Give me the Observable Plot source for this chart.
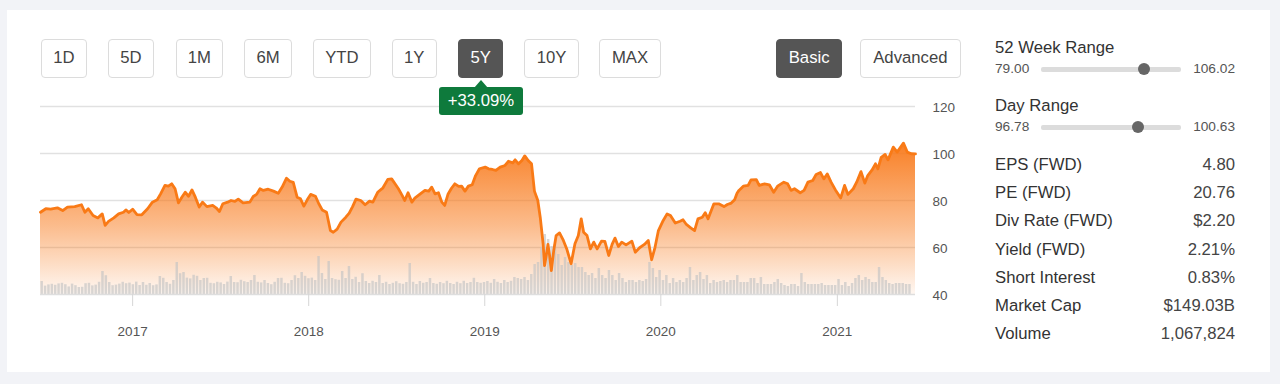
<!DOCTYPE html>
<html><head><meta charset="utf-8">
<script src="https://cdn.jsdelivr.net/npm/d3@7"></script>
<script src="https://cdn.jsdelivr.net/npm/@observablehq/plot@0.6"></script>
<style>
html,body{margin:0;padding:0;}
body{width:1280px;height:384px;background:#f2f3f7;font-family:"Liberation Sans",Arial,sans-serif;position:relative;overflow:hidden;}
#card{position:absolute;left:7px;top:10px;width:1263px;height:362px;background:#fff;}
.btn{position:absolute;top:38.5px;height:39px;border:1px solid #dcdcdc;border-radius:4px;box-sizing:border-box;display:flex;align-items:center;justify-content:center;font-size:16.7px;color:#444;background:#fff;}
.btn.on{background:#555;border-color:#555;color:#fff;}
.t{position:absolute;white-space:nowrap;line-height:20px;height:20px;}
#chart{position:absolute;left:20px;top:96px;}
#badge{position:absolute;left:439px;top:87px;width:84px;height:28px;background:#0e7a3c;border-radius:3px;color:#fff;font-size:16.7px;display:flex;align-items:center;justify-content:center;}
#arrow{position:absolute;left:474px;top:80px;width:0;height:0;border-left:7px solid transparent;border-right:7px solid transparent;border-bottom:8px solid #0e7a3c;}
.track{position:absolute;height:5px;background:#dcdcdc;border-radius:2px;}
.knob{position:absolute;width:12px;height:12px;border-radius:6px;background:#666;}
</style>
</head><body>
<div id="card"></div>
<div id="chart"></div>
<div id="ui"></div>
<script>
// ---------------- data ----------------
const priceDates = [
"2016-06-24","2016-07-05","2016-07-15","2016-07-29","2016-08-09","2016-08-19","2016-09-03","2016-09-17","2016-09-24","2016-10-01",
"2016-10-11","2016-10-21","2016-10-30","2016-11-05","2016-11-12","2016-11-23","2016-12-03","2016-12-13","2016-12-18","2016-12-24",
"2017-01-01","2017-01-10","2017-01-20","2017-02-01","2017-02-11","2017-02-21","2017-02-28","2017-03-09","2017-03-16","2017-03-23",
"2017-03-30","2017-04-06","2017-04-13","2017-04-20","2017-04-27","2017-05-04","2017-05-11","2017-05-19","2017-05-26","2017-06-04",
"2017-06-16","2017-06-23","2017-06-30","2017-07-07","2017-07-17","2017-07-24","2017-08-01","2017-08-08","2017-08-18","2017-09-01",
"2017-09-08","2017-09-15","2017-09-22","2017-09-29","2017-10-09","2017-10-20","2017-10-30","2017-11-07","2017-11-16","2017-11-23",
"2017-11-30","2017-12-08","2017-12-15","2017-12-22","2017-12-29","2018-01-05","2018-01-15","2018-01-22","2018-01-29","2018-02-07",
"2018-02-15","2018-02-21","2018-03-01","2018-03-09","2018-03-19","2018-03-26","2018-04-02","2018-04-09","2018-04-19","2018-04-28",
"2018-05-07","2018-05-14","2018-05-24","2018-06-04","2018-06-14","2018-06-22","2018-06-29","2018-07-06","2018-07-14","2018-07-19",
"2018-07-26","2018-08-03","2018-08-09","2018-08-19","2018-08-30","2018-09-07","2018-09-13","2018-09-20","2018-09-27","2018-10-04",
"2018-10-10","2018-10-17","2018-10-24","2018-10-31","2018-11-08","2018-11-14","2018-11-21","2018-11-28","2018-12-06","2018-12-13",
"2018-12-21","2019-01-02","2019-01-09","2019-01-17","2019-01-24","2019-02-02","2019-02-12","2019-02-19","2019-02-28","2019-03-05",
"2019-03-12","2019-03-19","2019-03-25","2019-04-01","2019-04-08","2019-04-14","2019-04-21","2019-04-26","2019-05-02","2019-05-05",
"2019-05-08","2019-05-12","2019-05-15","2019-05-19","2019-05-24","2019-05-29","2019-06-05","2019-06-13","2019-06-20","2019-06-29",
"2019-07-07","2019-07-14","2019-07-20","2019-07-25","2019-08-01","2019-08-08","2019-08-15","2019-08-22","2019-08-31","2019-09-07",
"2019-09-15","2019-09-22","2019-09-28","2019-10-05","2019-10-12","2019-10-21","2019-11-02","2019-11-09","2019-11-18","2019-11-28",
"2019-12-06","2019-12-13","2019-12-20","2019-12-27","2020-01-06","2020-01-14","2020-01-21","2020-01-31","2020-02-10","2020-02-16",
"2020-02-23","2020-03-03","2020-03-11","2020-03-18","2020-03-27","2020-04-02","2020-04-08","2020-04-20","2020-04-30","2020-05-11",
"2020-05-18","2020-05-26","2020-06-02","2020-06-07","2020-06-11","2020-06-20","2020-06-30","2020-07-06","2020-07-17","2020-07-23",
"2020-08-03","2020-08-13","2020-08-22","2020-08-30","2020-09-12","2020-09-20","2020-09-27","2020-10-04","2020-10-16","2020-10-24",
"2020-11-01","2020-11-11","2020-11-18","2020-11-27","2020-12-04","2020-12-11","2020-12-19","2020-12-28","2021-01-08","2021-01-16",
"2021-01-23","2021-02-03","2021-02-10","2021-02-19","2021-02-27","2021-03-05","2021-03-14","2021-03-21","2021-03-26","2021-04-02",
"2021-04-10","2021-04-16","2021-04-27","2021-05-05","2021-05-18","2021-05-26","2021-06-03","2021-06-12"
];
const prices = [
75.0,76.5,76.3,76.9,75.7,77.2,77.4,78.2,75.0,76.5,
73.6,72.6,74.3,69.4,71.1,72.6,74.3,75.0,76.0,74.9,
76.3,74.0,73.9,76.5,79.3,80.3,82.8,86.4,86.1,87.1,
85.0,79.0,81.4,83.5,81.8,84.5,81.4,77.2,79.3,77.4,
77.9,76.9,75.3,78.6,79.3,80.0,79.6,80.6,79.0,79.3,
81.7,82.6,85.0,84.3,84.8,84.0,83.1,85.7,89.5,88.2,
87.7,81.4,80.7,77.6,80.3,82.6,81.8,78.6,76.0,75.0,
67.2,66.5,67.8,70.8,72.9,74.6,77.4,80.6,80.0,78.2,
79.7,79.3,83.5,85.4,89.0,89.2,87.1,85.0,82.1,80.0,
83.3,79.3,81.0,82.6,84.3,84.0,85.7,82.8,83.3,79.3,
77.9,82.8,85.2,87.1,86.0,86.1,84.0,86.1,86.7,90.6,
93.5,94.2,93.5,93.2,92.8,94.2,94.9,96.7,96.0,97.3,
95.6,97.0,99.0,97.0,95.6,84.0,80.0,72.9,61.6,52.3,
55.9,61.3,57.3,50.2,58.7,65.1,66.2,63.0,59.4,53.1,
61.6,65.1,72.2,66.5,65.1,59.4,62.3,59.4,62.7,62.6,
56.6,61.3,64.0,60.4,62.3,61.1,62.7,58.0,59.9,61.3,
63.0,54.8,60.1,67.2,71.5,74.3,73.6,70.4,71.2,71.8,
69.8,68.4,67.2,72.2,72.9,74.8,72.2,78.6,78.6,77.4,
78.3,78.9,80.3,83.1,84.3,86.1,86.4,88.8,88.9,86.4,
87.1,86.7,83.5,86.1,87.8,87.1,84.3,85.0,83.3,84.3,
87.8,88.5,91.1,91.9,89.2,91.3,87.8,84.5,81.1,86.4,
82.6,85.0,87.8,92.3,87.4,90.6,93.0,95.6,93.5,98.4,
99.6,97.3,102.7,100.6,104.4,100.6,99.9,99.8
];
// weekly volume (millions of shares), first week starting volStart
const volStart = "2016-06-24";
const volumes = [
6.5,4.2,4.8,5.1,4.6,5.3,5.6,4.9,3.8,5.2,4.4,
3.5,3.6,5.4,5.6,4.3,4.7,6.1,11.5,9.4,6.0,
4.4,4.7,5.2,6.1,5.4,5.7,4.9,6.2,4.5,6.0,
4.6,5.5,4.4,4.8,9.0,8.1,6.0,5.1,7.0,16.0,
10.4,11.0,8.2,7.8,9.6,9.1,7.0,8.0,8.1,5.6,
5.4,6.1,5.8,5.0,6.2,9.0,6.0,5.9,7.1,6.4,
6.0,7.0,9.5,6.1,5.8,7.0,5.5,4.9,6.1,8.0,
8.1,5.6,5.4,7.0,9.4,8.0,11.0,9.1,7.9,8.2,
7.0,19.0,10.5,7.5,16.5,8.0,7.4,7.1,11.5,8.0,14.0,
7.5,8.6,6.0,10.4,6.5,5.5,6.6,6.0,9.5,
5.5,6.1,5.0,5.6,6.4,5.4,5.1,6.0,15.5,6.1,
5.0,6.5,5.6,6.0,8.0,5.5,5.1,6.0,5.4,6.6,
5.5,5.0,6.1,5.4,6.6,5.5,6.0,8.1,6.0,5.6,
6.0,6.5,5.6,7.5,6.1,5.5,7.0,6.0,6.6,8.5,
8.0,7.5,8.5,7.0,10.0,15.0,16.0,23.5,30.0,27.5,24.0,25.0,20.0,14.5,
18.5,16.0,14.5,15.5,13.5,13.5,11.0,9.5,10.5,8.0,
13.0,9.5,8.0,12.0,9.5,7.0,10.5,8.0,6.0,7.0,
7.0,6.0,7.0,6.5,7.5,16.0,13.0,8.5,12.0,7.0,
9.5,5.5,8.0,6.0,7.0,6.0,8.0,13.5,7.0,9.5,
11.0,7.5,9.5,5.5,7.0,6.0,6.5,7.0,6.0,7.0,
7.0,9.5,6.0,6.0,6.0,8.0,8.0,5.5,8.5,5.0,
5.0,5.0,6.0,7.5,5.5,4.5,4.0,5.0,5.0,4.0,
10.5,6.0,5.0,5.0,5.0,5.0,5.5,4.5,4.5,4.5,
4.5,7.5,4.5,6.0,4.0,5.5,8.0,9.5,7.0,8.5,
7.5,6.0,6.0,13.5,8.5,7.0,5.5,5.0,5.5,5.5,5.5,5.0,5.0
];
const xDomain = ["2016-06-24","2021-06-12"];
const yTicks = [40,60,80,100,120];
const xTickYears = ["2017","2018","2019","2020","2021"];
const changeLabel = "+33.09%";

const rangeButtons = ["1D","5D","1M","6M","YTD","1Y","5Y","10Y","MAX"];
const activeRange = "5Y";
const modeButtons = ["Basic","Advanced"];
const activeMode = "Basic";

const rangeTitles = ["52 Week Range","Day Range"];
const rangeLow = [79.00, 96.78];
const rangeHigh = [106.02, 100.63];
const rangeCurrent = [98.9, 99.44];

const statLabels = ["EPS (FWD)","PE (FWD)","Div Rate (FWD)","Yield (FWD)","Short Interest","Market Cap","Volume"];
const statValues = ["4.80","20.76","$2.20","2.21%","0.83%","$149.03B","1,067,824"];

// ---------------- chart ----------------
const base = 40;
const VOL_UNITS = 0.851; // y-units drawn per million shares
const priceData = priceDates.map((d,i)=>({date:new Date(d), price:prices[i]}));
const volData = volumes.map((v,i)=>{
  const d0 = d3.utcDay.offset(new Date(volStart), 7*i);
  return {x1:d0, x2:d3.utcDay.offset(d0,7), v};
});

const chart = Plot.plot({
  width:940, height:254,
  marginLeft:20, marginRight:45, marginTop:10, marginBottom:56,
  style:{fontFamily:"'Liberation Sans', Arial, sans-serif", fontSize:"13.5px", background:"transparent", overflow:"visible"},
  x:{type:"utc", domain:xDomain.map(d=>new Date(d)), label:null},
  y:{domain:[40,120], label:null},
  marks:[
    Plot.ruleY(yTicks.filter(t=>t>40), {stroke:"#e1e1e1", strokeWidth:1.3}),
    Plot.areaY(priceData, {x:"date", y1:base, y2:"price", fill:"url(#areaGrad)"}),
    Plot.rectY(volData, {x1:"x1", x2:"x2", y1:base, y2:d=>base+d.v*VOL_UNITS, fill:"#c3c3c3", fillOpacity:0.65, insetLeft:0.45, insetRight:0.45}),
    Plot.ruleY([40], {stroke:"#dedede", strokeWidth:1.3}),
    Plot.lineY(priceData, {x:"date", y:"price", stroke:"#f97a16", strokeWidth:2.8, strokeLinejoin:"round"}),
    Plot.axisX({ticks:xTickYears.map(y=>new Date(y+"-01-01")), tickFormat:"%Y", tickSize:12, tickPadding:20, stroke:"#d6d6d6", fill:"#555", fontSize:13.5, label:null}),
    Plot.axisY({anchor:"right", ticks:yTicks, tickSize:0, tickPadding:17, dy:1.5, fill:"#555", fontSize:13.5, label:null})
  ]
});
const defs = document.createElementNS("http://www.w3.org/2000/svg","defs");
defs.innerHTML = '<linearGradient id="areaGrad" x1="0" y1="0" x2="0" y2="1">'+
  '<stop offset="0" stop-color="#f8791a" stop-opacity="0.95"/>'+
  '<stop offset="0.55" stop-color="#f8791a" stop-opacity="0.5"/>'+
  '<stop offset="1" stop-color="#f8791a" stop-opacity="0.06"/></linearGradient>';
chart.insertBefore(defs, chart.firstChild);
document.getElementById("chart").appendChild(chart);

// ---------------- controls & side panel ----------------
const ui = document.getElementById("ui");
function el(cls, css, text){
  const d = document.createElement("div");
  d.className = cls; Object.assign(d.style, css);
  if (text !== undefined) d.textContent = text;
  ui.appendChild(d); return d;
}
const rangeX = [40.7,107.7,175.7,243.7,312.7,391.7,458.3,524,599.3];
const rangeW = [46.6,46.6,47.3,48.6,58.3,45,45,55,61.4];
rangeButtons.forEach((b,i)=>el("btn"+(b===activeRange?" on":""), {left:rangeX[i]+"px", width:rangeW[i]+"px"}, b));
const modeX = [776,860], modeW = [66.3,100.7];
modeButtons.forEach((b,i)=>el("btn"+(b===activeMode?" on":""), {left:modeX[i]+"px", width:modeW[i]+"px"}, b));
el("", {}, undefined).id = "arrow";
el("", {}, changeLabel).id = "badge";

const titleY = [48, 106], valY = [69.3, 127];
const trackL = 1041, trackR = 1181;
rangeTitles.forEach((t,i)=>{
  el("t", {left:"995px", top:(titleY[i]-10)+"px", fontSize:"16.7px", color:"#333"}, t);
  el("t", {left:"995px", top:(valY[i]-10)+"px", fontSize:"13.7px", color:"#555"}, rangeLow[i].toFixed(2));
  el("t", {left:"1150px", width:"85px", textAlign:"right", top:(valY[i]-10)+"px", fontSize:"13.7px", color:"#555"}, rangeHigh[i].toFixed(2));
  el("track", {left:trackL+"px", width:(trackR-trackL)+"px", top:(valY[i]-2.5)+"px"});
  const kx = d3.scaleLinear([rangeLow[i], rangeHigh[i]], [trackL, trackR])(rangeCurrent[i]);
  el("knob", {left:(kx-6)+"px", top:(valY[i]-6)+"px"});
});
statLabels.forEach((s,i)=>{
  const cy = 164.8 + i*28.28;
  el("t", {left:"995px", top:(cy-10)+"px", fontSize:"16.7px", color:"#333"}, s);
  el("t", {left:"1100px", width:"135px", textAlign:"right", top:(cy-10)+"px", fontSize:"16.7px", color:"#444"}, statValues[i]);
});
</script>
</body></html>
